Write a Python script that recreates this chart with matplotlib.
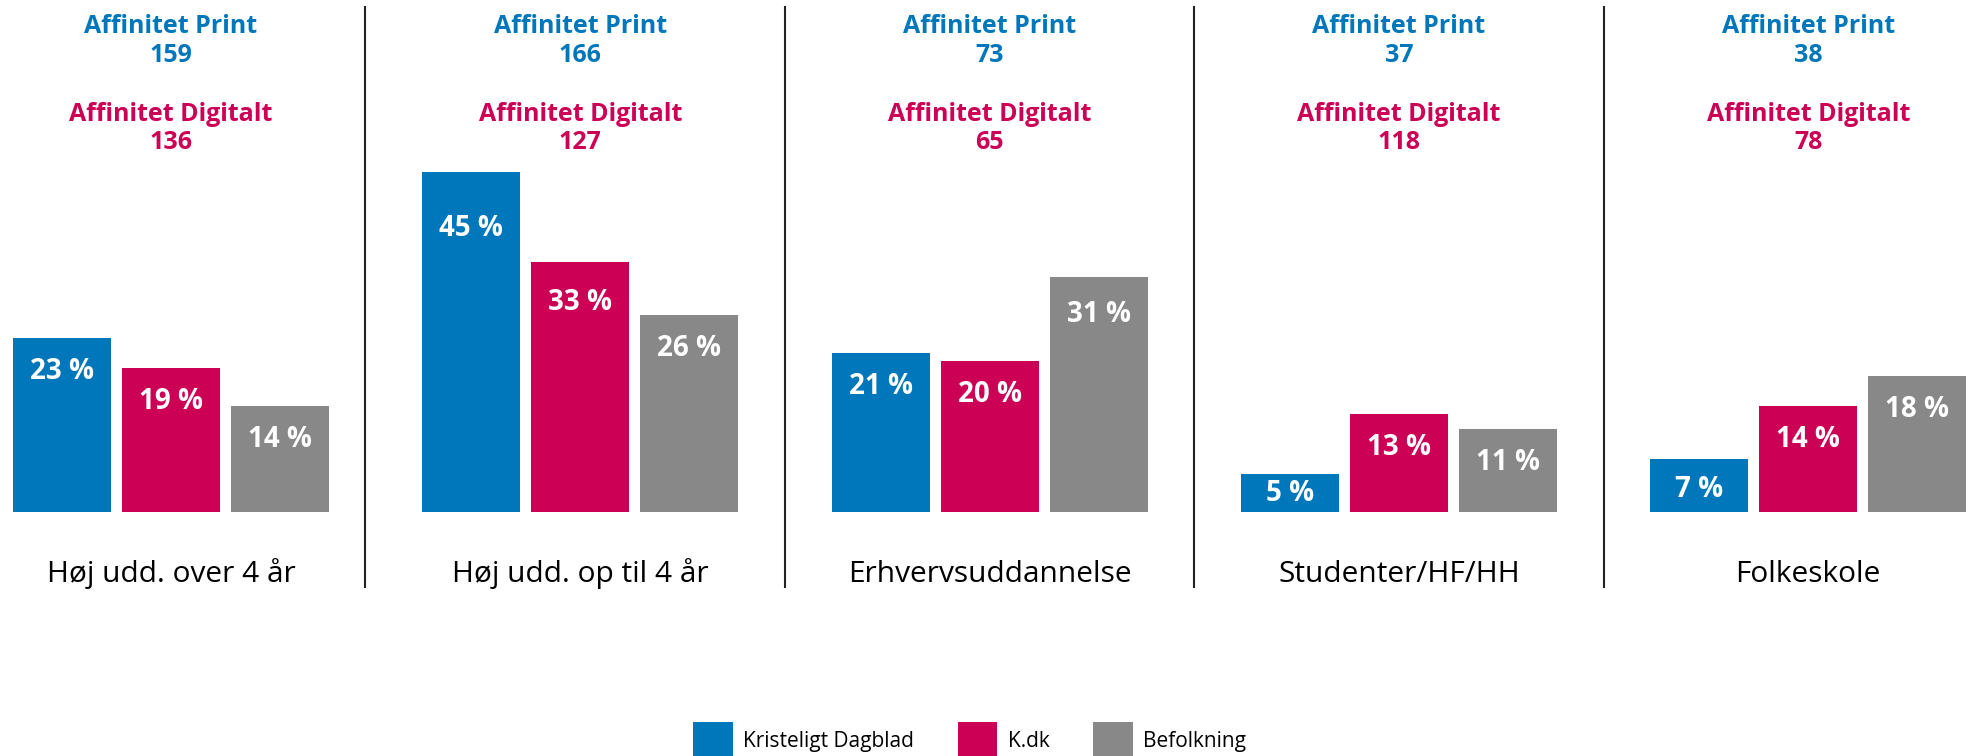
import matplotlib.pyplot as plt
import numpy as np

# Uddannelse - Kristeligt Dagblad / K.dk / befolkning (pct.)
categories = ["Høj udd. over 4 år", "Høj udd. op til 4 år", "Erhvervsuddannelse",
              "Studenter/HF/HH", "Folkeskole"]
series_names = ["Kristeligt Dagblad", "K.dk", "Befolkning"]
kristeligt_dagblad = [23, 45, 21, 5, 7]
k_dk = [19, 33, 20, 13, 14]
befolkning = [14, 26, 31, 11, 18]
affinitet_print = [159, 166, 73, 37, 38]
affinitet_digitalt = [136, 127, 65, 118, 78]

BLUE = "#0077BB"
PINK = "#CC0055"
GRAY = "#888888"
colors = [BLUE, PINK, GRAY]

plt.rcParams["font.family"] = ["Open Sans", "DejaVu Sans"]

fig = plt.figure(figsize=(19.73, 7.56), dpi=100)
ax = fig.add_axes([0, 0, 1, 1])
ax.axis("off")

# pixel scale of the original: 409.3 px per group, 7.565 px per percent
px_x = 409.3
px_y = 7.565
ax.set_xlim(-171 / px_x, (1973 - 171) / px_x)
ax.set_ylim(-244 / px_y, 512 / px_y)

x = np.arange(len(categories))
width = 98 / px_x
step = 109 / px_x

for i, (vals, color, name) in enumerate(zip([kristeligt_dagblad, k_dk, befolkning], colors, series_names)):
    pos = x + (i - 1) * step
    ax.bar(pos, vals, width=width, color=color, label=name)
    for xp, v in zip(pos, vals):
        drop = min(max(41 / px_y, 0.19 * v), 0.72 * v)
        ax.text(xp, v - drop, f"{v} %", ha="center", va="baseline",
                color="white", fontsize=20, fontweight="bold")

trans = ax.get_xaxis_transform()
for xi, cat, ap, ad in zip(x, categories, affinitet_print, affinitet_digitalt):
    ax.text(xi, 0.9568, "Affinitet Print", transform=trans, ha="center", va="baseline",
            color=BLUE, fontsize=18, fontweight="bold")
    ax.text(xi, 0.9184, str(ap), transform=trans, ha="center", va="baseline",
            color=BLUE, fontsize=18, fontweight="bold")
    ax.text(xi, 0.8404, "Affinitet Digitalt", transform=trans, ha="center", va="baseline",
            color=PINK, fontsize=18, fontweight="bold")
    ax.text(xi, 0.8025, str(ad), transform=trans, ha="center", va="baseline",
            color=PINK, fontsize=18, fontweight="bold")
    ax.text(xi, 0.2302, cat, transform=trans, ha="center", va="baseline",
            color="black", fontsize=21.5)

# skillelinjer mellem grupperne
dividers = x[:-1] + 0.5
dividers[0] -= 11 / px_x
for xd in dividers:
    ax.axvline(xd, ymin=0.2235, ymax=0.9907, color="#222222", linewidth=1.5)

fig.legend(loc="center", bbox_to_anchor=(0.4915, 0.021), ncol=3, frameon=False,
           fontsize=15, handlelength=1.9, handleheight=2.3, handletextpad=0.5,
           columnspacing=2.1)

fig.savefig("out.png", dpi=100)
